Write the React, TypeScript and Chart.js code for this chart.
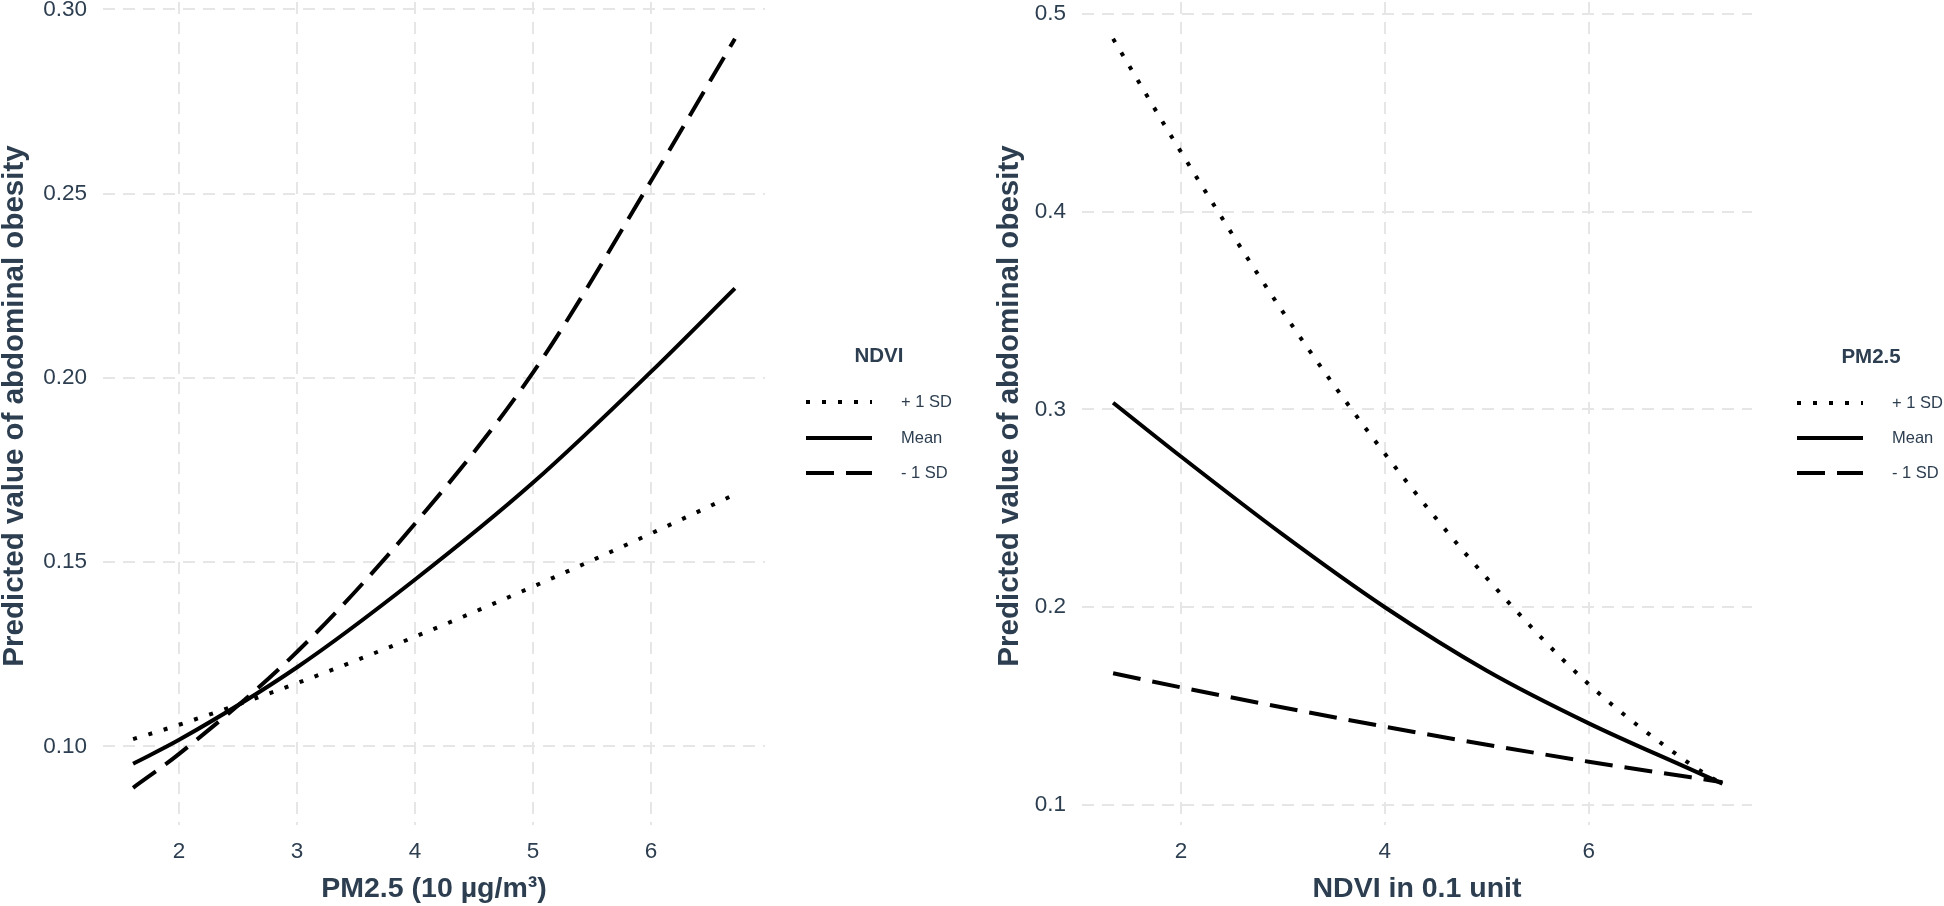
import React, { useEffect, useRef } from "react";
import { Chart, registerables } from "chart.js";
Chart.register(...registerables);

// ---------- data ----------
const seriesLabels = ["+ 1 SD", "Mean", "- 1 SD"];

// Left panel: x = PM2.5 (10 µg/m³), lines = NDVI levels
const pmX = [1.61, 2, 3, 4, 5, 6, 6.71];
const pmNdviPlus = [0.102, 0.1059, 0.1172, 0.1298, 0.1434, 0.1578, 0.1684];
const pmNdviMean = [0.0953, 0.1018, 0.1215, 0.1453, 0.1716, 0.2017, 0.2243];
const pmNdviMinus = [0.0888, 0.098, 0.1257, 0.1605, 0.2015, 0.2535, 0.292];
const pmXTicks = [2, 3, 4, 5, 6];
const pmYTicks = [0.1, 0.15, 0.2, 0.25, 0.3];

// Right panel: x = NDVI in 0.1 unit, lines = PM2.5 levels
const ndviX = [1.335, 2, 3, 4, 5, 6, 7, 7.31];
const ndviPmPlus = [0.4874, 0.4302, 0.3493, 0.2776, 0.2147, 0.161, 0.1205, 0.1105];
const ndviPmMean = [0.3034, 0.2762, 0.2367, 0.2, 0.1679, 0.1413, 0.118, 0.1108];
const ndviPmMinus = [0.1666, 0.1595, 0.1493, 0.1396, 0.1305, 0.1219, 0.114, 0.1115];
const ndviXTicks = [2, 4, 6];
const ndviYTicks = [0.1, 0.2, 0.3, 0.4, 0.5];

// ---------- styling ----------
const FONT = "'Liberation Sans', Arial, Helvetica, sans-serif";
const TEXT = "#2C3E50";
const GRID = "#E6E6E6";
const DOTTED = [4, 12];
const LONGDASH = [28, 12];

type PanelCfg = {
  left: number;
  width: number;
  xs: number[];
  ys: number[][];
  xTicks: number[];
  yTicks: number[];
  yDecimals: number;
  xMin: number;
  xMax: number;
  yMin: number;
  yMax: number;
  xTitle: string;
  yTitle: string;
  yAxisWidth: number;
  padRight: number;
  padTop: number;
  xAxisHeight: number;
  yTitleX: number;
  yTitleY: number;
  legendTitle: string;
  legend: { titleX: number; titleY: number; x0: number; x1: number; rows: number[]; textX: number };
};

const W = 1944;
const H = 906;

const panels: PanelCfg[] = [
  {
    left: 0,
    width: 972,
    xs: pmX,
    ys: [pmNdviPlus, pmNdviMean, pmNdviMinus],
    xTicks: pmXTicks,
    yTicks: pmYTicks,
    yDecimals: 2,
    xMin: 1.355,
    xMax: 6.965,
    yMin: 0.0787,
    yMax: 0.302,
    xTitle: "PM2.5 (10 \u00B5g/m\u00B3)",
    yTitle: "Predicted value of abdominal obesity",
    yAxisWidth: 103,
    padRight: 207,
    padTop: 2,
    xAxisHeight: 81,
    yTitleX: 15,
    yTitleY: 406,
    legendTitle: "NDVI",
    legend: { titleX: 879, titleY: 356, x0: 806, x1: 872, rows: [402, 438, 473], textX: 901 },
  },
  {
    left: 972,
    width: 972,
    xs: ndviX,
    ys: [ndviPmPlus, ndviPmMean, ndviPmMinus],
    xTicks: ndviXTicks,
    yTicks: ndviYTicks,
    yDecimals: 1,
    xMin: 1.03,
    xMax: 7.6,
    yMin: 0.0899,
    yMax: 0.506,
    xTitle: "NDVI in 0.1 unit",
    yTitle: "Predicted value of abdominal obesity",
    yAxisWidth: 110,
    padRight: 192,
    padTop: 2,
    xAxisHeight: 81,
    yTitleX: 38,
    yTitleY: 406,
    legendTitle: "PM2.5",
    legend: { titleX: 899, titleY: 357, x0: 825, x1: 891, rows: [403, 438, 473], textX: 920 },
  },
];

const dashes = [DOTTED, [], LONGDASH];

function textPlugin(cfg: PanelCfg) {
  return {
    id: "customTexts",
    afterDraw(chart: any) {
      const ctx = chart.ctx as CanvasRenderingContext2D;
      const lg = cfg.legend;
      ctx.save();
      // y-axis title (rotated)
      ctx.fillStyle = TEXT;
      ctx.font = `bold 29.5px ${FONT}`;
      ctx.textAlign = "center";
      ctx.textBaseline = "middle";
      ctx.save();
      ctx.translate(cfg.yTitleX, cfg.yTitleY);
      ctx.rotate(-Math.PI / 2);
      ctx.fillText(cfg.yTitle, 0, 0);
      ctx.restore();
      // legend
      ctx.font = `bold 20.5px ${FONT}`;
      ctx.fillText(cfg.legendTitle, lg.titleX, lg.titleY);
      chart.data.datasets.forEach((ds: any, i: number) => {
        const y = lg.rows[i];
        ctx.beginPath();
        ctx.setLineDash(ds.borderDash || []);
        ctx.lineWidth = ds.borderWidth;
        ctx.strokeStyle = ds.borderColor;
        ctx.lineCap = "butt";
        ctx.moveTo(lg.x0, y);
        ctx.lineTo(lg.x1, y);
        ctx.stroke();
        ctx.setLineDash([]);
        ctx.font = `16.5px ${FONT}`;
        ctx.textAlign = "left";
        ctx.fillStyle = TEXT;
        ctx.fillText(ds.label, lg.textX, y);
      });
      ctx.restore();
    },
  };
}

function Panel({ cfg }: { cfg: PanelCfg }) {
  const ref = useRef<HTMLCanvasElement | null>(null);
  useEffect(() => {
    if (!ref.current) return;
    const datasets = cfg.ys.map((vals, i) => ({
      label: seriesLabels[i],
      data: cfg.xs.map((x, j) => ({ x, y: vals[j] })),
      borderColor: "#000000",
      backgroundColor: "#000000",
      borderWidth: 4,
      borderDash: dashes[i],
      borderCapStyle: "butt" as const,
      pointRadius: 0,
      fill: false,
      cubicInterpolationMode: "monotone" as const,
    }));
    const chart = new Chart(ref.current, {
      type: "line",
      data: { datasets },
      options: {
        animation: false,
        responsive: false,
        maintainAspectRatio: false,
        devicePixelRatio: 1,
        layout: { padding: { left: 0, right: cfg.padRight, top: cfg.padTop, bottom: 0 } },
        plugins: { legend: { display: false }, tooltip: { enabled: false } },
        scales: {
          x: {
            type: "linear",
            min: cfg.xMin,
            max: cfg.xMax,
            afterBuildTicks: (s: any) => {
              s.ticks = cfg.xTicks.map((v) => ({ value: v }));
            },
            afterFit: (s: any) => {
              s.height = cfg.xAxisHeight;
              s.paddingLeft = 0;
              s.paddingRight = 0;
            },
            grid: { color: GRID, lineWidth: 2, drawTicks: false },
            border: { display: false, dash: [12, 8] },
            ticks: {
              padding: 13,
              color: TEXT,
              font: { family: FONT, size: 22.5 },
              maxRotation: 0,
              callback: (v: any) => String(v),
            },
            title: {
              display: true,
              text: cfg.xTitle,
              color: TEXT,
              font: { family: FONT, size: 28.5, weight: "bold", lineHeight: 1.2 },
              padding: { top: 0, bottom: 0 },
            },
          },
          y: {
            type: "linear",
            min: cfg.yMin,
            max: cfg.yMax,
            afterBuildTicks: (s: any) => {
              s.ticks = cfg.yTicks.map((v) => ({ value: v }));
            },
            afterFit: (s: any) => {
              s.width = cfg.yAxisWidth;
              s.paddingTop = 0;
              s.paddingBottom = 0;
            },
            grid: { color: GRID, lineWidth: 2, drawTicks: false },
            border: { display: false, dash: [12, 8] },
            ticks: {
              padding: 16,
              color: TEXT,
              font: { family: FONT, size: 22.5 },
              callback: (v: any) => Number(v).toFixed(cfg.yDecimals),
            },
            title: { display: false },
          },
        },
      },
      plugins: [textPlugin(cfg)],
    } as any);
    return () => chart.destroy();
  }, [cfg]);
  return (
    <canvas
      ref={ref}
      width={cfg.width}
      height={H}
      style={{ position: "absolute", left: cfg.left, top: 0, width: cfg.width, height: H }}
    />
  );
}

export default function App() {
  return (
    <div
      style={{
        position: "fixed",
        left: 0,
        top: 0,
        width: W,
        height: H,
        background: "#ffffff",
        overflow: "hidden",
      }}
    >
      {panels.map((p, i) => (
        <Panel key={i} cfg={p} />
      ))}
    </div>
  );
}
